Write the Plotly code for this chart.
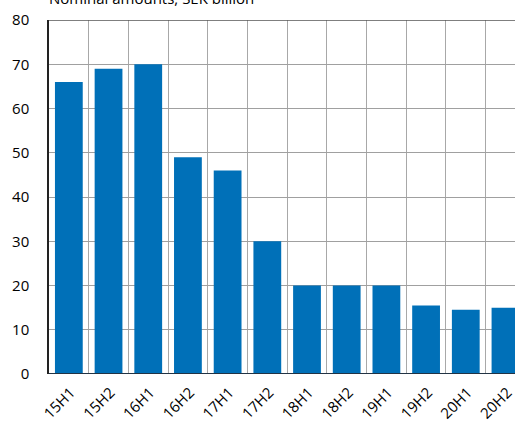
import plotly.graph_objects as go

categories = ["15H1", "15H2", "16H1", "16H2", "17H1", "17H2", "18H1", "18H2", "19H1", "19H2", "20H1", "20H2"]
values = [66, 69, 70, 49, 46, 30, 20, 20, 20, 15.5, 14.5, 15]
y_ticks = [0, 10, 20, 30, 40, 50, 60, 70, 80]
title_text = "Nominal amounts, SEK billion"

FONT = "Open Sans, Liberation Sans, sans-serif"
x_idx = list(range(len(categories)))

fig = go.Figure()
fig.add_trace(go.Bar(x=x_idx, y=values, width=0.7, marker=dict(color="#0070b8", line=dict(width=0))))

fig.update_layout(
    width=515, height=427,
    margin=dict(l=49, r=0, t=20, b=53, autoexpand=False),
    paper_bgcolor="white", plot_bgcolor="white",
    showlegend=False,
    font=dict(family=FONT, size=15, color="#000"),
    bargap=0.3,
)
fig.update_xaxes(
    automargin=False,
    range=[-0.5, 11.24],
    tickvals=x_idx, ticktext=categories, tickangle=-45,
    showgrid=False, zeroline=False,
    showline=False,
    ticks="",
    tickfont=dict(size=15),
    ticklabelshift=2,
    ticklabelstandoff=6,
    ticklabeloverflow="allow",
    minor=dict(tickmode="linear", tick0=0.5, dtick=1, showgrid=True, gridcolor="#a8a8a8", gridwidth=1),
)
fig.update_yaxes(
    automargin=False,
    range=[0, 80], tickvals=y_ticks,
    showgrid=True, gridcolor="#a0a0a0", gridwidth=1,
    zeroline=False, showline=True, linecolor="#222", linewidth=1.5,
    ticks="", ticklabelstandoff=15,
)
# bottom axis line
fig.add_shape(type="line", xref="paper", yref="y", x0=0, x1=1, y0=0, y1=0, line=dict(color="#223344", width=2))
# top border line
fig.add_shape(type="line", xref="paper", yref="y", x0=0, x1=1, y0=80, y1=80, line=dict(color="#555", width=1.5))

fig.add_annotation(text=title_text, xref="paper", yref="paper", x=0, y=1, xanchor="left", yanchor="bottom",
                   xshift=-2, yshift=10, showarrow=False, font=dict(size=15, family=FONT))

fig.write_html("out.html", config={"displayModeBar": False},
               post_script="document.body.style.margin='0';document.body.style.overflow='hidden';")
